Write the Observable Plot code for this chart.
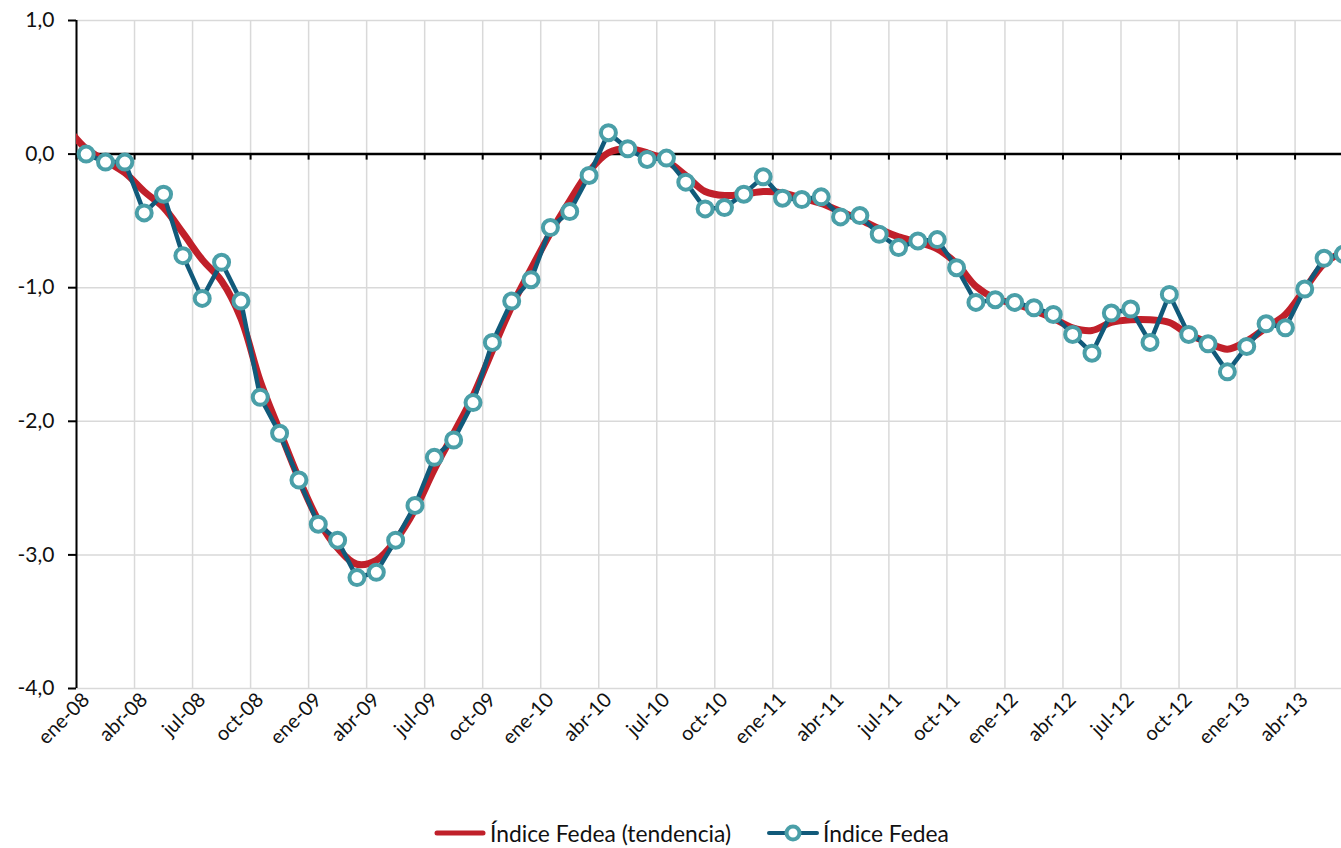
<!DOCTYPE html>
<html>
<head>
<meta charset="utf-8">
<script src="https://cdn.jsdelivr.net/npm/d3@7"></script>
<script src="https://cdn.jsdelivr.net/npm/@observablehq/plot@0.6"></script>
<style>
  html, body { margin: 0; padding: 0; background: #fff; overflow: hidden; }
  #chart { position: absolute; left: 0; top: 0; }
  #legend { position: absolute; left: 434px; top: 819px; display: flex; align-items: center;
            font-family: Lato, "Open Sans", sans-serif; font-size: 22.8px; color: #111; white-space: nowrap; }
  #legend span { margin-left: 4px; }
</style>
</head>
<body>
<div id="chart"></div>
<div id="legend">
  <svg width="52" height="20"><line x1="3" x2="49" y1="10" y2="10" stroke="#c0202a" stroke-width="5" stroke-linecap="round"/></svg>
  <span>Índice Fedea (tendencia)</span>
  <svg width="52" height="20" style="margin-left:36px"><line x1="2" x2="50" y1="10" y2="10" stroke="#115a7a" stroke-width="4" stroke-linecap="round"/><circle cx="26" cy="10" r="6.5" fill="#fff" stroke="#4a9fa8" stroke-width="4"/></svg>
  <span>Índice Fedea</span>
</div>
<script>
// Month labels (ene-08 .. jun-13)
const months = [
  "ene-08","feb-08","mar-08","abr-08","may-08","jun-08","jul-08","ago-08","sep-08","oct-08","nov-08","dic-08",
  "ene-09","feb-09","mar-09","abr-09","may-09","jun-09","jul-09","ago-09","sep-09","oct-09","nov-09","dic-09",
  "ene-10","feb-10","mar-10","abr-10","may-10","jun-10","jul-10","ago-10","sep-10","oct-10","nov-10","dic-10",
  "ene-11","feb-11","mar-11","abr-11","may-11","jun-11","jul-11","ago-11","sep-11","oct-11","nov-11","dic-11",
  "ene-12","feb-12","mar-12","abr-12","may-12","jun-12","jul-12","ago-12","sep-12","oct-12","nov-12","dic-12",
  "ene-13","feb-13","mar-13","abr-13","may-13","jun-13"
];

// Índice Fedea (monthly)
const fedea = [
   0.00,-0.06,-0.06,-0.44,-0.30,-0.76,-1.08,-0.81,-1.10,-1.82,-2.09,-2.44,
  -2.77,-2.89,-3.17,-3.13,-2.89,-2.63,-2.27,-2.14,-1.86,-1.41,-1.10,-0.94,
  -0.55,-0.43,-0.16, 0.16, 0.04,-0.04,-0.03,-0.21,-0.41,-0.40,-0.30,-0.17,
  -0.33,-0.34,-0.32,-0.47,-0.46,-0.60,-0.70,-0.65,-0.64,-0.85,-1.11,-1.09,
  -1.11,-1.15,-1.20,-1.35,-1.49,-1.19,-1.16,-1.41,-1.05,-1.35,-1.42,-1.63,
  -1.44,-1.27,-1.30,-1.01,-0.78,-0.75
];

// Índice Fedea (tendencia), starting one month earlier (dic-07)
const trendStartOffset = -1;
const trend = [
   0.20,
   0.04,-0.05,-0.14,-0.28,-0.40,-0.59,-0.79,-0.95,-1.23,-1.70,-2.07,-2.43,
  -2.74,-2.95,-3.07,-3.04,-2.89,-2.66,-2.36,-2.09,-1.81,-1.47,-1.14,-0.86,
  -0.59,-0.35,-0.13, 0.01, 0.04, 0.01,-0.05,-0.16,-0.28,-0.31,-0.30,-0.28,
  -0.29,-0.33,-0.37,-0.43,-0.49,-0.56,-0.62,-0.66,-0.71,-0.82,-0.99,-1.08,
  -1.12,-1.17,-1.23,-1.30,-1.32,-1.26,-1.24,-1.24,-1.26,-1.35,-1.41,-1.46,
  -1.40,-1.30,-1.20,-1.01,-0.82,-0.73
];

const yTicks = [-4, -3, -2, -1, 0, 1];
const tickEvery = 3;

// Build tables
const fedeaData = fedea.map((v, i) => ({m: i + 0.5, v}));
const trendData = trend.map((v, i) => ({m: i + trendStartOffset + 0.5, v}));
const quarterIdx = d3.range(0, months.length, tickEvery);
const gridPos = quarterIdx;                 // category boundaries
const labelPos = quarterIdx.map(i => i + 0.5); // category centres

const fmt = v => d3.format(".1f")(v).replace(".", ",").replace("\u2212", "-");

const chart = Plot.plot({
  width: 1341,
  height: 800,
  marginLeft: 76,
  marginRight: 0,
  marginTop: 20,
  marginBottom: 112,
  style: {fontFamily: "Lato, 'Open Sans', sans-serif", fontSize: "20px", background: "#fff", color: "#111"},
  x: {type: "linear", domain: [0, 65.4]},
  y: {domain: [-4, 1]},
  marks: [
    Plot.gridX(gridPos, {stroke: "#d9d9d9", strokeOpacity: 1, strokeWidth: 1.5}),
    Plot.gridY(yTicks, {stroke: "#d9d9d9", strokeOpacity: 1, strokeWidth: 1.5}),
    Plot.ruleY([0], {stroke: "#000", strokeWidth: 2.5}),
    Plot.ruleX(gridPos, {y1: 0, y2: -0.045, stroke: "#000", strokeWidth: 2}),
    Plot.ruleX([0], {stroke: "#000", strokeWidth: 2}),
    Plot.axisY(yTicks, {tickSize: 8, tickPadding: 14, tickFormat: fmt, fontSize: 21, stroke: "#000", strokeWidth: 2, label: null}),
    Plot.axisX(labelPos, {tickSize: 0, tickPadding: 8, tickRotate: -45, fontSize: 20,
      tickFormat: d => months[Math.round(d - 0.5)], label: null}),
    Plot.line(trendData, {x: "m", y: "v", stroke: "#c0202a", strokeWidth: 7, curve: "catmull-rom", clip: true}),
    Plot.line(fedeaData, {x: "m", y: "v", stroke: "#115a7a", strokeWidth: 4.5}),
    Plot.dot(fedeaData, {x: "m", y: "v", r: 7.5, fill: "#fff", stroke: "#4a9fa8", strokeWidth: 4})
  ]
});
document.getElementById("chart").appendChild(chart);
</script>
</body>
</html>
